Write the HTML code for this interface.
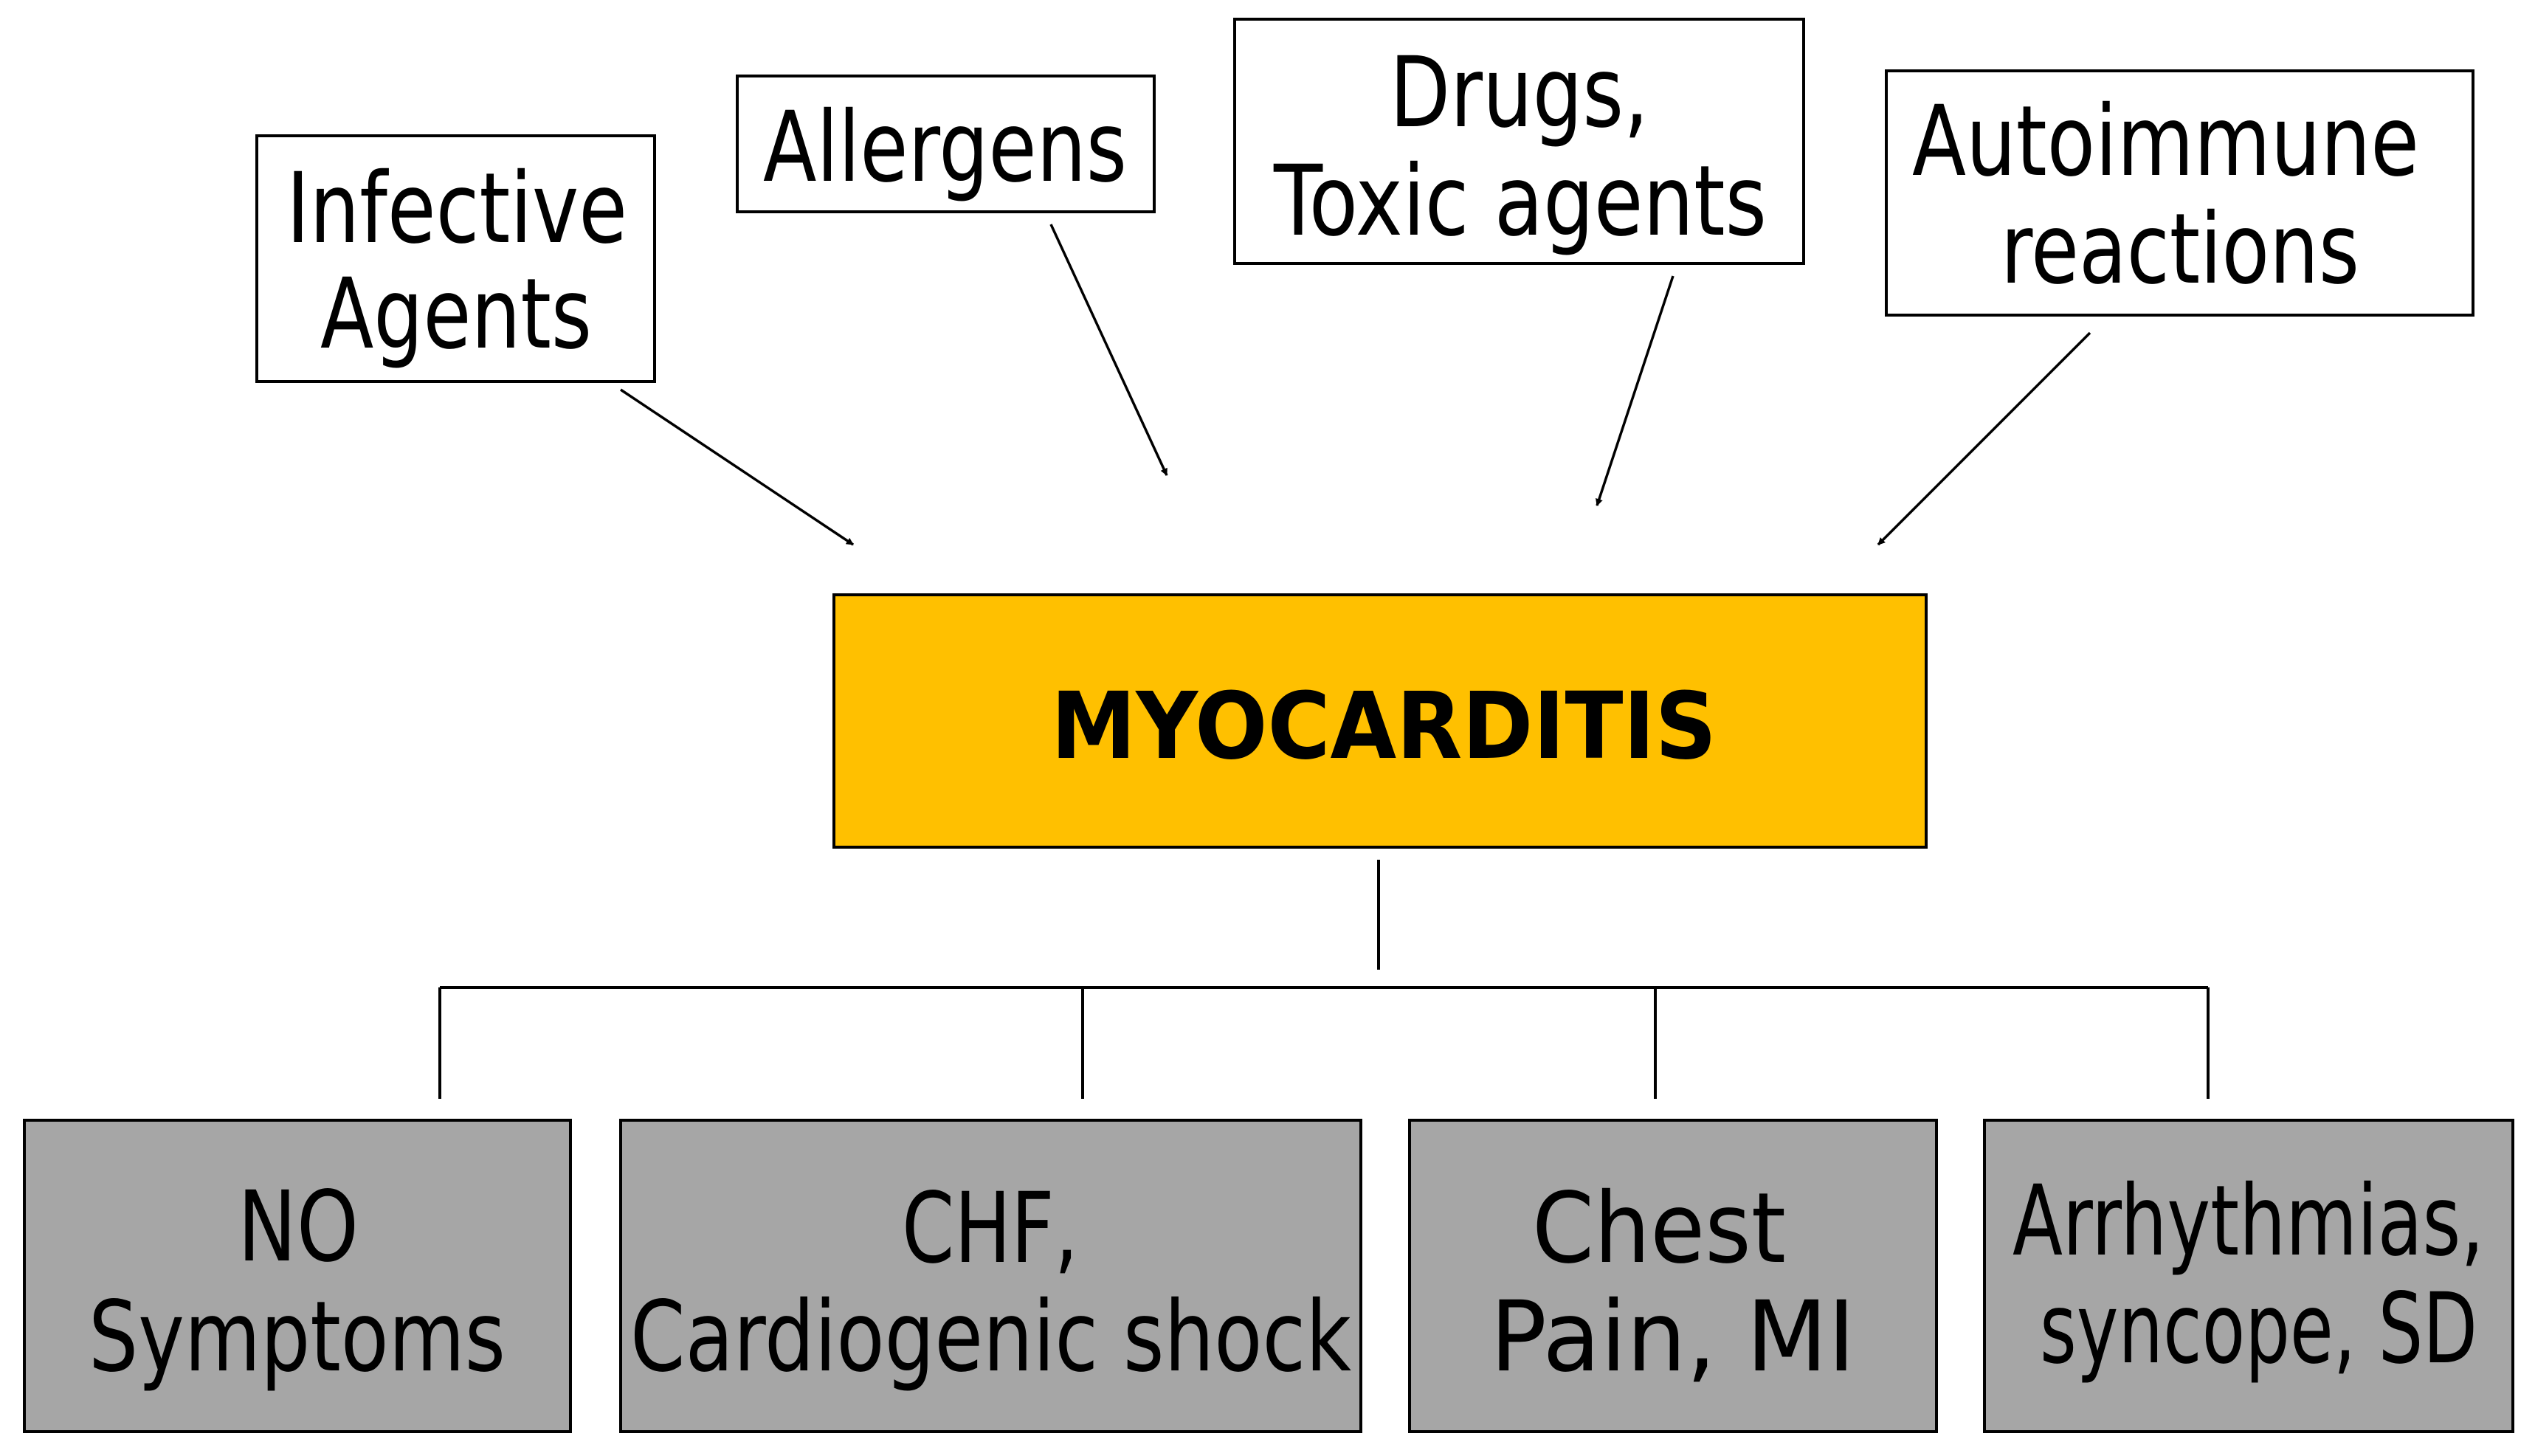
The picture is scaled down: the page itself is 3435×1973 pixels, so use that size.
<!DOCTYPE html>
<html><head><meta charset="utf-8"><style>html,body{margin:0;padding:0;background:#fff}svg{display:block}</style></head>
<body>
<svg width="3435" height="1973" viewBox="0 0 3435 1973" xmlns="http://www.w3.org/2000/svg" font-family="'DejaVu Sans','Liberation Sans',sans-serif">
<defs><marker id="a" markerWidth="10" markerHeight="10" refX="9" refY="5" orient="auto" markerUnits="userSpaceOnUse" viewBox="0 0 10 10"><path d="M0,0 L10,5 L0,10 z" fill="#000"/></marker></defs>
<style>.t{font-size:132px;fill:#000}.b{fill:#fff;stroke:#000;stroke-width:4}.g{fill:#A6A6A6;stroke:#000;stroke-width:4}.l{stroke:#000;stroke-width:4;fill:none}</style>
<rect class="b" x="348" y="184" width="539" height="333"/>
<text class="t" x="388" y="328" textLength="462" lengthAdjust="spacingAndGlyphs">Infective</text>
<text class="t" x="434" y="471" textLength="368" lengthAdjust="spacingAndGlyphs">Agents</text>
<rect class="b" x="999" y="103" width="565" height="184"/>
<text class="t" x="1034" y="245" textLength="493" lengthAdjust="spacingAndGlyphs">Allergens</text>
<rect class="b" x="1673" y="26" width="771" height="331"/>
<text class="t" x="1883" y="171" textLength="351" lengthAdjust="spacingAndGlyphs">Drugs,</text>
<text class="t" x="1726" y="318" textLength="668" lengthAdjust="spacingAndGlyphs">Toxic agents</text>
<rect class="b" x="2556" y="96" width="795" height="331"/>
<text class="t" x="2591" y="237" textLength="687" lengthAdjust="spacingAndGlyphs">Autoimmune</text>
<text class="t" x="2711" y="383" textLength="486" lengthAdjust="spacingAndGlyphs">reactions</text>
<g stroke="#000" stroke-width="3.5" marker-end="url(#a)">
<line x1="841" y1="528" x2="1156" y2="738"/>
<line x1="1424" y1="304" x2="1581" y2="644"/>
<line x1="2267" y1="374" x2="2164" y2="685"/>
<line x1="2832" y1="451" x2="2545" y2="738"/>
</g>
<rect x="1130" y="806" width="1480" height="342" fill="#FFC000" stroke="#000" stroke-width="4"/>
<text x="1424" y="1027" font-size="125" font-weight="bold" textLength="902" lengthAdjust="spacingAndGlyphs">MYOCARDITIS</text>
<path class="l" d="M1868 1165 V1314 M596 1338 H2992 M596 1338 V1489 M1467 1338 V1489 M2243 1338 V1489 M2992 1338 V1489"/>
<rect class="g" x="33" y="1518" width="740" height="422"/>
<text class="t" x="322" y="1708" textLength="164" lengthAdjust="spacingAndGlyphs">NO</text>
<text class="t" x="120" y="1857" textLength="565" lengthAdjust="spacingAndGlyphs">Symptoms</text>
<rect class="g" x="841" y="1518" width="1003" height="422"/>
<text class="t" x="1222" y="1710" textLength="239" lengthAdjust="spacingAndGlyphs">CHF,</text>
<text class="t" x="854" y="1857" textLength="977" lengthAdjust="spacingAndGlyphs">Cardiogenic shock</text>
<rect class="g" x="1910" y="1518" width="714" height="422"/>
<text class="t" x="2076" y="1710" textLength="344" lengthAdjust="spacingAndGlyphs">Chest</text>
<text class="t" x="2019" y="1857" textLength="495" lengthAdjust="spacingAndGlyphs">Pain, MI</text>
<rect class="g" x="2689" y="1518" width="716" height="422"/>
<text class="t" x="2727" y="1700" font-size="120" textLength="639" lengthAdjust="spacingAndGlyphs">Arrhythmias,</text>
<text class="t" x="2764" y="1846" font-size="120" textLength="593" lengthAdjust="spacingAndGlyphs">syncope, SD</text>
</svg>
</body></html>
